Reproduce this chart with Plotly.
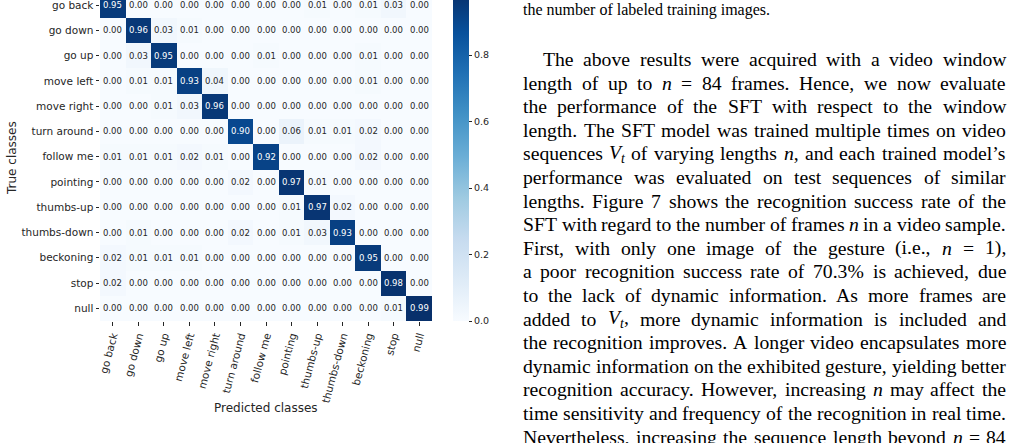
import re
import plotly.graph_objects as go

# ---------------- data ----------------
classes = ["go back", "go down", "go up", "move left", "move right", "turn around",
           "follow me", "pointing", "thumbs-up", "thumbs-down", "beckoning", "stop", "null"]

row_go_back     = [0.95, 0.00, 0.00, 0.00, 0.00, 0.00, 0.00, 0.00, 0.01, 0.00, 0.01, 0.03, 0.00]
row_go_down     = [0.00, 0.96, 0.03, 0.01, 0.00, 0.00, 0.00, 0.00, 0.00, 0.00, 0.00, 0.00, 0.00]
row_go_up       = [0.00, 0.03, 0.95, 0.00, 0.00, 0.00, 0.01, 0.00, 0.00, 0.00, 0.01, 0.00, 0.00]
row_move_left   = [0.00, 0.01, 0.01, 0.93, 0.04, 0.00, 0.00, 0.00, 0.00, 0.00, 0.01, 0.00, 0.00]
row_move_right  = [0.00, 0.00, 0.01, 0.03, 0.96, 0.00, 0.00, 0.00, 0.00, 0.00, 0.00, 0.00, 0.00]
row_turn_around = [0.00, 0.00, 0.00, 0.00, 0.00, 0.90, 0.00, 0.06, 0.01, 0.01, 0.02, 0.00, 0.00]
row_follow_me   = [0.01, 0.01, 0.01, 0.02, 0.01, 0.00, 0.92, 0.00, 0.00, 0.00, 0.02, 0.00, 0.00]
row_pointing    = [0.00, 0.00, 0.00, 0.00, 0.00, 0.02, 0.00, 0.97, 0.01, 0.00, 0.00, 0.00, 0.00]
row_thumbs_up   = [0.00, 0.00, 0.00, 0.00, 0.00, 0.00, 0.00, 0.01, 0.97, 0.02, 0.00, 0.00, 0.00]
row_thumbs_down = [0.00, 0.01, 0.00, 0.00, 0.00, 0.02, 0.00, 0.01, 0.03, 0.93, 0.00, 0.00, 0.00]
row_beckoning   = [0.02, 0.01, 0.01, 0.01, 0.00, 0.00, 0.00, 0.00, 0.00, 0.00, 0.95, 0.00, 0.00]
row_stop        = [0.02, 0.00, 0.00, 0.00, 0.00, 0.00, 0.00, 0.00, 0.00, 0.00, 0.00, 0.98, 0.00]
row_null        = [0.00, 0.00, 0.00, 0.00, 0.00, 0.00, 0.00, 0.00, 0.00, 0.00, 0.00, 0.01, 0.99]

matrix = [row_go_back, row_go_down, row_go_up, row_move_left, row_move_right,
          row_turn_around, row_follow_me, row_pointing, row_thumbs_up,
          row_thumbs_down, row_beckoning, row_stop, row_null]

colorbar_ticks = [0.0, 0.2, 0.4, 0.6, 0.8]

caption_line = "the number of labeled training images."
paragraph_lines = [
    "The above results were acquired with a video window",
    "length of up to <i>n</i> = 84 frames. Hence, we now evaluate",
    "the performance of the SFT with respect to the window",
    "length. The SFT model was trained multiple times on video",
    "sequences <i>V</i><sub><i>t</i></sub> of varying lengths <i>n</i>, and each trained model\u2019s",
    "performance was evaluated on test sequences of similar",
    "lengths. Figure 7 shows the recognition success rate of the",
    "SFT with regard to the number of frames <i>n</i> in a video sample.",
    "First, with only one image of the gesture (i.e., <i>n</i> = 1),",
    "a poor recognition success rate of 70.3% is achieved, due",
    "to the lack of dynamic information. As more frames are",
    "added to <i>V</i><sub><i>t</i></sub>, more dynamic information is included and",
    "the recognition improves. A longer video encapsulates more",
    "dynamic information on the exhibited gesture, yielding better",
    "recognition accuracy. However, increasing <i>n</i> may affect the",
    "time sensitivity and frequency of the recognition in real time.",
    "Nevertheless, increasing the sequence length beyond <i>n</i> = 84",
]

# ---------------- layout geometry ----------------
W, H = 1018, 443
PL, PR, PB = 100, 432, 321   # plot area left, right, bottom (px); top at 0
PW, PH = PR - PL, PB

def px(x):
    return (x - PL) / PW

def py(y):
    return (PB - y) / PH

SANS = "DejaVu Sans"
SERIF = "Liberation Serif"
DARK = "#262626"

blues = ['rgb(247,251,255)', 'rgb(222,235,247)', 'rgb(198,219,239)', 'rgb(158,202,225)',
         'rgb(107,174,214)', 'rgb(66,146,198)', 'rgb(33,113,181)', 'rgb(8,81,156)', 'rgb(8,48,107)']
cscale = [[i / (len(blues) - 1), c] for i, c in enumerate(blues)]

zmax = max(max(r) for r in matrix)

fig = go.Figure()
fig.add_trace(go.Heatmap(
    z=matrix, x=classes, y=classes, zmin=0, zmax=zmax, colorscale=cscale,
    hoverinfo="skip",
    colorbar=dict(
        thickness=16, lenmode="pixels", len=PB + 7.6, y=0, yanchor="bottom",
        x=px(453), xanchor="left", xpad=0, ypad=0, outlinewidth=0,
        tickvals=colorbar_ticks, ticktext=[f"{t:.1f}" for t in colorbar_ticks],
        ticks="outside", ticklen=3.5, tickwidth=1, tickcolor=DARK,
        tickfont=dict(family=SANS, size=9.5, color=DARK),
    ),
))

annotations = []
for i, rname in enumerate(classes):
    for j, cname in enumerate(classes):
        v = matrix[i][j]
        annotations.append(dict(
            x=cname, y=rname, xref="x", yref="y", text=f"{v:.2f}", showarrow=False,
            xanchor="center", yanchor="middle",
            font=dict(family=SANS, size=8.5, color="white" if v > 0.5 else DARK),
        ))

# axis titles
annotations.append(dict(x=px(12), y=py(158), xref="paper", yref="paper", text="True classes",
                        textangle=-90, showarrow=False, xanchor="center", yanchor="middle",
                        font=dict(family=SANS, size=12, color=DARK)))
annotations.append(dict(x=px(266), y=py(408), xref="paper", yref="paper", text="Predicted classes",
                        showarrow=False, xanchor="center", yanchor="middle",
                        font=dict(family=SANS, size=12, color=DARK)))

# ---------------- justified text column ----------------
ROMAN = {' ': 250, '!': 333, '(': 333, ')': 333, ',': 250, '-': 333, '.': 250, '%': 833,
         '=': 564, ':': 278, ';': 278, '\u2019': 333, "'": 333,
         'A': 722, 'B': 667, 'C': 667, 'D': 722, 'E': 611, 'F': 556, 'G': 722, 'H': 722, 'I': 333,
         'J': 389, 'K': 722, 'L': 611, 'M': 889, 'N': 722, 'O': 722, 'P': 556, 'Q': 722, 'R': 667,
         'S': 556, 'T': 611, 'U': 722, 'V': 722, 'W': 944, 'X': 722, 'Y': 722, 'Z': 611,
         'a': 444, 'b': 500, 'c': 444, 'd': 500, 'e': 444, 'f': 333, 'g': 500, 'h': 500, 'i': 278,
         'j': 278, 'k': 500, 'l': 278, 'm': 778, 'n': 500, 'o': 500, 'p': 500, 'q': 500, 'r': 333,
         's': 389, 't': 278, 'u': 500, 'v': 500, 'w': 722, 'x': 500, 'y': 500, 'z': 444}
ITAL = {'n': 500, 'V': 611, 't': 278}

def tok_width(tok, size):
    w = 0.0
    sub = ital = False
    for part in re.split(r'(<[^>]+>)', tok):
        if part.startswith('<'):
            closing = part.startswith('</')
            tag = part.strip('</>').lower()
            if tag == 'sub':
                sub = not closing
            elif tag == 'i':
                ital = not closing
            continue
        for ch in part:
            cw = ITAL.get(ch, 500) if (ital and ch in ITAL) else ROMAN.get(ch, 500)
            w += cw * (0.7 if sub else 1.0)
    return w * size / 1000.0

FS = 19.7
TX0, TX1 = 522, 1005
LINE0, LEAD = 59, 23.6

for k, line in enumerate(paragraph_lines):
    toks = line.split(' ')
    left = TX0 + (20 if k == 0 else 0)
    widths = [tok_width(t, FS) for t in toks]
    gap = (TX1 - left - sum(widths)) / (len(toks) - 1)
    x = left
    yline = LINE0 + k * LEAD
    for t, w in zip(toks, widths):
        annotations.append(dict(x=px(x), y=py(yline), xref="paper", yref="paper", text=t,
                                xanchor="left", yanchor="middle", showarrow=False, borderpad=0,
                                font=dict(family=SERIF, size=FS, color="black")))
        x += w + gap

annotations.append(dict(x=px(TX0), y=py(10), xref="paper", yref="paper", text=caption_line,
                        xanchor="left", yanchor="middle", showarrow=False, borderpad=0,
                        font=dict(family=SERIF, size=16, color="black")))

fig.update_layout(
    width=W, height=H, autosize=False,
    margin=dict(l=PL, r=W - PR, t=0, b=H - PB, pad=0, autoexpand=False),
    paper_bgcolor="white", plot_bgcolor="white",
    showlegend=False,
    annotations=annotations,
    xaxis=dict(type="category", range=[-0.5, 12.5], showgrid=False, zeroline=False,
               showline=False, ticks="outside", ticklen=3.5, tickwidth=1, tickcolor=DARK,
               tickangle=-75, automargin=False,
               tickfont=dict(family=SANS, size=10.5, color=DARK)),
    yaxis=dict(type="category", range=[12.5, -0.2], showgrid=False, zeroline=False,
               showline=False, ticks="outside", ticklen=3.5, tickwidth=1, tickcolor=DARK,
               automargin=False,
               tickfont=dict(family=SANS, size=10.5, color=DARK)),
)

fig.write_html(
    "out.html",
    config={"displayModeBar": False},
    post_script="document.body.style.margin='0';document.body.style.padding='0';"
                "document.body.style.overflow='hidden';",
)
